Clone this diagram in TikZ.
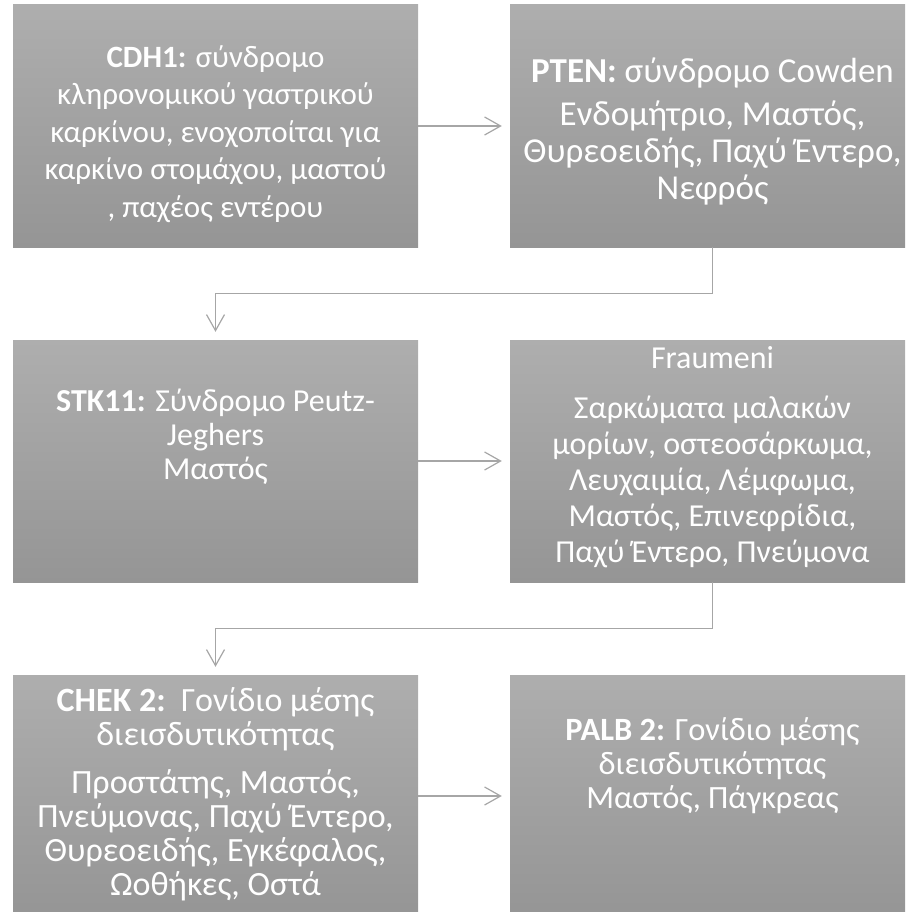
\documentclass[tikz,border=0pt]{standalone}
\usepackage{fontspec}
\setmainfont{Carlito}
\usepackage{tikz}
\usetikzlibrary{arrows.meta}

\definecolor{boxtop}{HTML}{AEAEAE}
\definecolor{boxbot}{HTML}{959595}
\definecolor{linkgray}{HTML}{A6A6A6}

\tikzset{
  genebox/.style={rectangle, minimum width=405pt, minimum height=242pt,
    inner sep=0pt, top color=boxtop, bottom color=boxbot, draw=none},
  genetext/.style 2 args={text=white, align=center, inner sep=0pt,
    font=\fontsize{#1}{#2}\selectfont},
  link/.style={draw=linkgray, line width=1.2pt, shorten >=8pt,
    -{Straight Barb[length=16pt,width=18pt,line width=1.2pt]}}
}

\begin{document}
\begin{tikzpicture}[x=1pt,y=-1pt]
			\useasboundingbox (0,0) rectangle (905,912);
			\clip (0,0) rectangle (905,912);
			% boxes
			\node[genebox] (cdh) at (215.5,126) {};
			\node[genebox] (pten) at (712.5,126) {};
			\node[genebox] (stk) at (215.5,461) {};
			\node[genebox] (frau) at (712.5,461) {};
			\node[genebox] (chek) at (215.5,796) {};
			\node[genebox] (palb) at (712.5,796) {};
			% texts
			\node[genetext={31}{37.5}] (cdh-t) at ([yshift=-8]cdh.center)
				{\textbf{CDH1:} σύνδρομο\\κληρονομικού γαστρικού\\καρκίνου, ενοχοποίται για\\καρκίνο στομάχου, μαστού\\, παχέος εντέρου};
			\node[genetext={35}{37}] (pten-t) at ([yshift=-5]pten.center)
				{\textbf{PTEN:} σύνδρομο Cowden\\[6pt]Ενδομήτριο, Μαστός,\\Θυρεοειδής, Παχύ Έντερο,\\Νεφρός};
			\node[genetext={32}{34}] (stk-t) at ([yshift=24]stk.center)
				{\textbf{STK11:} Σύνδρομο Peutz-\\Jeghers\\Μαστός};
			\node[genetext={32}{36}] (frau-t) at ([yshift=4]frau.center)
				{Fraumeni\\[14pt]Σαρκώματα μαλακών\\μορίων, οστεοσάρκωμα,\\Λευχαιμία, Λέμφωμα,\\Μαστός, Επινεφρίδια,\\Παχύ Έντερο, Πνεύμονα};
			\node[genetext={34}{34}] (chek-t) at ([yshift=2]chek.center)
				{\textbf{CHEK 2:}\ \ Γονίδιο μέσης\\διεισδυτικότητας\\[14pt]Προστάτης, Μαστός,\\Πνεύμονας, Παχύ Έντερο,\\Θυρεοειδής, Εγκέφαλος,\\Ωοθήκες, Οστά};
			\node[genetext={32.5}{34}] (palb-t) at ([yshift=30]palb.center)
				{\textbf{PALB 2:} Γονίδιο μέσης\\διεισδυτικότητας\\Μαστός, Πάγκρεας};
			% links
			\draw[link] (cdh.east) -- (pten.west);
			\draw[link] (pten.south) -- ++(0,46) -| (stk.north);
			\draw[link] (stk.east) -- (frau.west);
			\draw[link] (frau.south) -- ++(0,46) -| (chek.north);
			\draw[link] (chek.east) -- (palb.west);
		\end{tikzpicture}
\end{document}
